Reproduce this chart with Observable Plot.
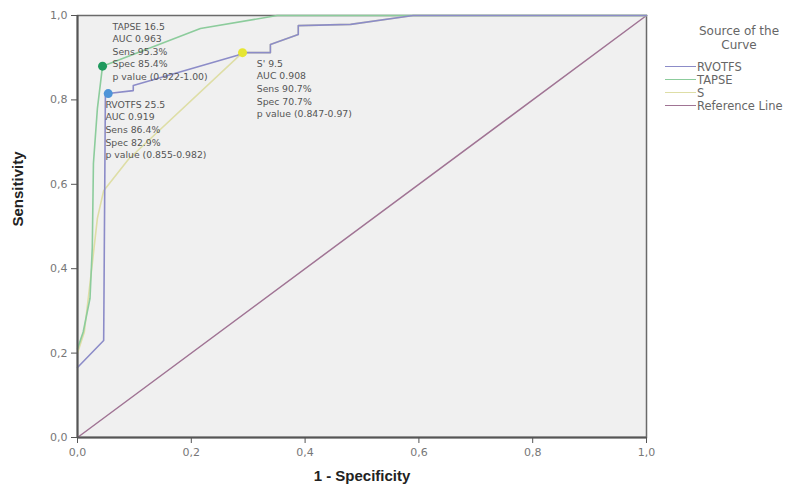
<!DOCTYPE html>
<html>
<head>
<meta charset="utf-8">
<script src="https://cdn.jsdelivr.net/npm/d3@7"></script>
<script src="https://cdn.jsdelivr.net/npm/@observablehq/plot@0.6"></script>
<style>
  body { margin: 0; background: #fff; font-family: "DejaVu Sans", sans-serif; }
  #wrap { position: relative; width: 808px; height: 490px; overflow: hidden; }
  #legend { position: absolute; left: 0; top: 0; color: #666; font-family: "DejaVu Sans", sans-serif; }
  #legend .title { position: absolute; left: 676px; width: 126px; text-align: center; font-size: 12px; line-height: 14px; height: 14px; }
  #legend .row { position: absolute; left: 665px; height: 13px; display: flex; align-items: center; font-size: 11.5px; white-space: nowrap; }
  #legend .sw { width: 31px; height: 0; border-top: 1.5px solid; margin-right: 1px; }
</style>
</head>
<body>
<div id="wrap">
  <div id="chart"></div>
  <div id="legend"></div>
</div>
<script>
// ---- data ----
const legendTitle = ["Source of the", "Curve"];
const seriesNames = ["RVOTFS", "TAPSE", "S", "Reference Line"];
const seriesColors = ["#8c8cc8", "#8ccc9c", "#dedea6", "#a07494"];

const rvotfsX = [0, 0.046, 0.049, 0.054, 0.098, 0.098, 0.28, 0.29, 0.339, 0.339, 0.388, 0.388, 0.48, 0.59, 1];
const rvotfsY = [0.166, 0.23, 0.81, 0.815, 0.822, 0.834, 0.905, 0.912, 0.912, 0.931, 0.955, 0.976, 0.979, 1, 1];

const tapseX = [0, 0.01, 0.022, 0.026, 0.028, 0.035, 0.044, 0.216, 0.351, 1];
const tapseY = [0.21, 0.25, 0.33, 0.45, 0.65, 0.78, 0.88, 0.969, 1, 1];

const sX = [0, 0.012, 0.025, 0.035, 0.046, 0.09, 0.29, 0.339, 0.339, 0.388, 0.388, 0.48, 0.59, 1];
const sY = [0.2, 0.25, 0.4, 0.52, 0.585, 0.66, 0.912, 0.912, 0.931, 0.955, 0.976, 0.979, 1, 1];

const refX = [0, 1];
const refY = [0, 1];

const cutX = [0.054, 0.044, 0.29];
const cutY = [0.815, 0.88, 0.912];
const cutColors = ["#4f94d8", "#1f9a5e", "#e6e632"];

const labelX = [0.049, 0.0615, 0.315];
const labelY = [0.803, 0.988, 0.9];
const labelText = [
  "RVOTFS 25.5\nAUC 0.919\nSens 86.4%\nSpec 82.9%\np value (0.855-0.982)",
  "TAPSE 16.5\nAUC 0.963\nSens 95.3%\nSpec 85.4%\np value (0.922-1.00)",
  "S' 9.5\nAUC 0.908\nSens 90.7%\nSpec 70.7%\np value (0.847-0.97)"
];

const xTicks = [0, 0.2, 0.4, 0.6, 0.8, 1.0];
const yTicks = [0, 0.2, 0.4, 0.6, 0.8, 1.0];

// ---- build ----
const toPts = (xs, ys) => xs.map((x, i) => ({x, y: ys[i]}));
const fmt = d => d.toFixed(1).replace(".", ",");

const chart = Plot.plot({
  width: 808,
  height: 490,
  marginLeft: 77,
  marginRight: 162,
  marginTop: 15,
  marginBottom: 53,
  style: {fontFamily: "DejaVu Sans, sans-serif", background: "#fff"},
  x: {domain: [0, 1], ticks: xTicks, tickFormat: fmt, tickSize: 6, label: null},
  y: {domain: [0, 1], ticks: yTicks, tickFormat: fmt, tickSize: 6, label: null},
  marks: [
    Plot.frame({fill: "#f0f0f0", stroke: "#6a6a6a", strokeWidth: 1.5}),
    Plot.line(toPts(refX, refY), {x: "x", y: "y", stroke: seriesColors[3], strokeWidth: 1.5}),
    Plot.line(toPts(sX, sY), {x: "x", y: "y", stroke: seriesColors[2], strokeWidth: 1.6}),
    Plot.line(toPts(tapseX, tapseY), {x: "x", y: "y", stroke: seriesColors[1], strokeWidth: 1.6}),
    Plot.line(toPts(rvotfsX, rvotfsY), {x: "x", y: "y", stroke: seriesColors[0], strokeWidth: 1.6}),
    Plot.dot(cutX.map((x, i) => ({x, y: cutY[i], c: cutColors[i]})), {x: "x", y: "y", r: 4.5, fill: "c", stroke: "none"}),
    Plot.text(labelX.map((x, i) => ({x, y: labelY[i], t: labelText[i]})), {
      x: "x", y: "y", text: "t", textAnchor: "start", lineAnchor: "top",
      fontSize: 9.3, lineHeight: 1.36, fill: "#555"
    }),
    Plot.ruleY([0], {stroke: "#555", strokeWidth: 2}),
    Plot.ruleX([0], {stroke: "#555", strokeWidth: 2}),
    Plot.axisX({ticks: xTicks, tickFormat: fmt, tickSize: 6, tickPadding: 5, fontSize: 11, color: "#777", stroke: "#555", label: null}),
    Plot.axisY({ticks: yTicks, tickFormat: fmt, tickSize: 6, tickPadding: 4, fontSize: 11, color: "#777", stroke: "#555", label: null}),
    Plot.text(["1 - Specificity"], {frameAnchor: "bottom", dy: 43, fontSize: 15, fontWeight: "bold", fill: "#222", fontFamily: "Liberation Sans, Arial, sans-serif"}),
    Plot.text(["Sensitivity"], {frameAnchor: "left", dx: -59, rotate: -90, fontSize: 15, fontWeight: "bold", fill: "#222", fontFamily: "Liberation Sans, Arial, sans-serif"})
  ]
});
document.getElementById("chart").appendChild(chart);

// legend
const lg = document.getElementById("legend");
legendTitle.forEach((s, i) => {
  const t = document.createElement("div");
  t.className = "title";
  t.style.top = (24 + i * 14) + "px";
  t.textContent = s;
  lg.appendChild(t);
});
seriesNames.forEach((n, i) => {
  const r = document.createElement("div");
  r.className = "row";
  r.style.top = (60 + i * 13) + "px";
  r.innerHTML = `<span class="sw" style="border-color:${seriesColors[i]}"></span><span>${n}</span>`;
  lg.appendChild(r);
});
</script>
</body>
</html>
